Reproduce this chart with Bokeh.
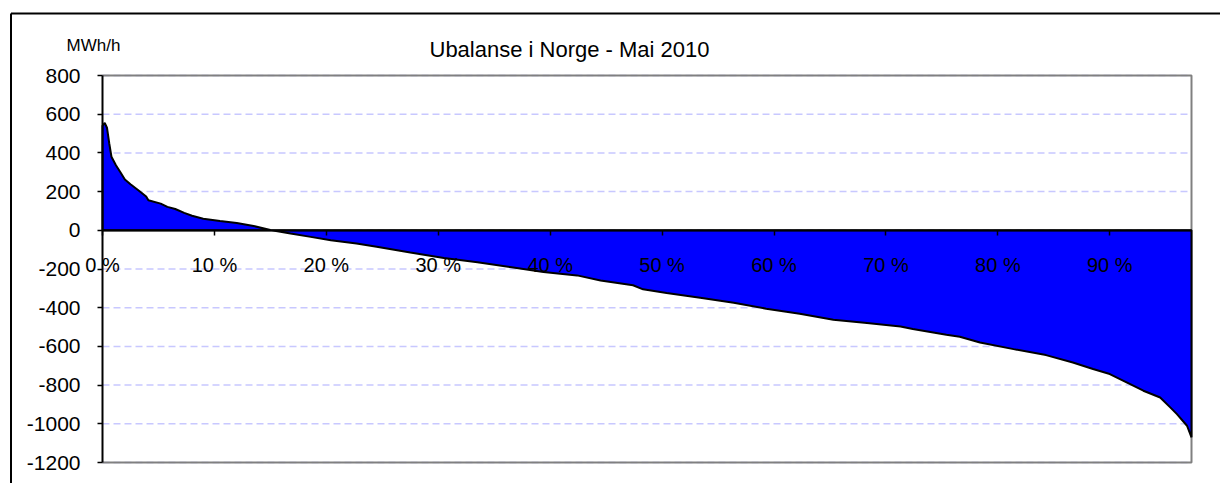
from bokeh.plotting import figure
from bokeh.models import Range1d, FixedTicker, Label
from bokeh.embed import file_html
from bokeh.resources import INLINE

# Duration curve: share of hours (%) vs. imbalance (MWh/h)
pct = [0.0, 0.2, 0.4, 0.6, 0.8, 1.2, 1.6, 2.0, 2.5, 3.2, 3.9, 4.1, 5.2, 5.8, 6.5,
       7.3, 8.0, 9.0, 10.5, 12.0, 13.5, 15.0, 16.8, 18.6, 20.4, 22.7, 24.5, 27.5,
       30.5, 33.5, 36.4, 39.4, 42.4, 44.5, 47.4, 48.3, 50.4, 53.4, 56.4, 59.3,
       62.3, 65.3, 68.3, 71.3, 72.4, 75.4, 76.6, 78.4, 81.4, 84.3, 86.7, 88.5,
       90.0, 91.5, 93.0, 94.5, 95.4, 96.0, 96.9, 97.3]
mwh = [540, 555, 530, 450, 380, 336, 300, 262, 238, 207, 175, 155, 138, 121, 110,
       90, 75, 60, 48, 38, 22, 2, -17, -34, -51, -68, -85, -115,
       -143, -165, -190, -216, -233, -259, -284, -305, -324, -348, -374, -405,
       -431, -462, -479, -497, -510, -540, -550, -580, -614, -645, -683, -717,
       -743, -786, -829, -864, -915, -950, -1010, -1070]

x_ticks = [0, 10, 20, 30, 40, 50, 60, 70, 80, 90]
x_tick_labels = ["0 %", "10 %", "20 %", "30 %", "40 %", "50 %", "60 %", "70 %", "80 %", "90 %"]
y_ticks = [-1200, -1000, -800, -600, -400, -200, 0, 200, 400, 600, 800]
y_tick_labels = ["-1200", "-1000", "-800", "-600", "-400", "-200", "0", "200", "400", "600", "800"]
title_text = "Ubalanse i Norge - Mai 2010"
unit_text = "MWh/h"

FONT = "Liberation Sans"

# ---- layout (pixels in the page) ----
CANVAS_X, CANVAS_Y = 0, 0
W, H = 1220, 483
X_MAX = pct[-1]
Y_MIN, Y_MAX = y_ticks[0], y_ticks[-1]
PX_LEFT, PX_RIGHT = 102, 1191     # plot box in page pixels
PX_TOP, PX_BOTTOM = 75, 462
sx = (PX_RIGHT - PX_LEFT) / X_MAX
sy = (PX_BOTTOM - PX_TOP) / (Y_MAX - Y_MIN)


def dx(px):
    return (px - PX_LEFT) / sx


def dy(py):
    return Y_MAX + (PX_TOP - py) / sy


p = figure(width=W, height=H, output_backend="svg", toolbar_location=None,
           x_range=Range1d(dx(CANVAS_X), dx(CANVAS_X + W)),
           y_range=Range1d(dy(CANVAS_Y + H), dy(CANVAS_Y)),
           min_border=0)
p.min_border_left = 0
p.min_border_right = 0
p.min_border_top = 0
p.min_border_bottom = 0
p.title.visible = False
p.background_fill_color = "white"
p.border_fill_color = "white"
p.outline_line_color = None
p.xgrid.visible = False
p.ygrid.visible = False

# outer chart border (top and left)
bx, by = dx(10.5), dy(13)
p.segment(x0=[bx, bx], y0=[by, by], x1=[dx(CANVAS_X + W + 5), bx], y1=[by, dy(CANVAS_Y + H + 5)],
          line_color="black", line_width=2)

# horizontal gridlines
p.segment(x0=[0] * len(y_ticks), y0=y_ticks, x1=[X_MAX] * len(y_ticks), y1=y_ticks,
          line_color="#c8c8ff", line_width=1.5, line_dash="7 4")

# plot box
p.line([0, X_MAX, X_MAX, 0], [Y_MAX, Y_MAX, Y_MIN, Y_MIN], line_color="#808080", line_width=2)

# area
xs = [pct[0]] + pct + [pct[-1]]
ys = [0] + mwh + [0]
p.patch(xs, ys, fill_color="#0000ff", line_color="black", line_width=2)

# x axis at zero
xa = p.xaxis[0]
xa.fixed_location = 0
xa.bounds = (0, X_MAX)
xa.ticker = FixedTicker(ticks=x_ticks)
xa.major_label_overrides = {t: l for t, l in zip(x_ticks, x_tick_labels)}
xa.axis_line_color = "black"
xa.axis_line_width = 2
xa.major_tick_line_color = "black"
xa.major_tick_line_width = 1.5
xa.major_tick_in = 0
xa.major_tick_out = 5
xa.minor_tick_line_color = None
xa.major_label_standoff = 19
xa.major_label_text_font = FONT
xa.major_label_text_font_size = "20px"
xa.major_label_text_color = "black"

ya = p.yaxis[0]
ya.fixed_location = 0
ya.bounds = (Y_MIN, Y_MAX)
ya.ticker = FixedTicker(ticks=y_ticks)
ya.major_label_overrides = {t: l for t, l in zip(y_ticks, y_tick_labels)}
ya.axis_line_color = "black"
ya.axis_line_width = 2
ya.major_tick_line_color = "black"
ya.major_tick_line_width = 1.5
ya.major_tick_in = 0
ya.major_tick_out = 5
ya.minor_tick_line_color = None
ya.major_label_standoff = 17
ya.major_label_text_font = FONT
ya.major_label_text_font_size = "21px"
ya.major_label_text_color = "black"

p.add_layout(Label(x=dx(66), y=dy(45), text=unit_text, text_font=FONT,
                   text_font_size="17px", text_color="black", text_baseline="alphabetic"))
p.add_layout(Label(x=dx(429), y=dy(49), text=title_text, text_font=FONT,
                   text_font_size="22px", text_color="black", text_baseline="alphabetic"))

open("out.html", "w").write(file_html(p, INLINE))
